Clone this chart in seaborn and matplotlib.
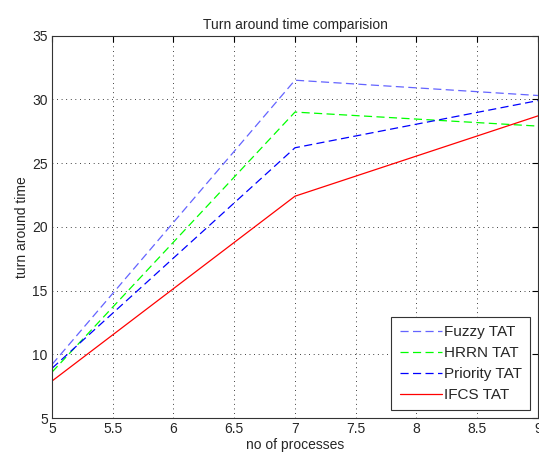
import pandas as pd
import matplotlib.pyplot as plt
import seaborn as sns

# data
processes = [5, 7, 9]
fuzzy_tat = [9.2, 31.5, 30.3]
hrrn_tat = [8.6, 29.0, 27.9]
priority_tat = [8.9, 26.2, 29.9]
ifcs_tat = [7.9, 22.4, 28.7]

series = {
    "Fuzzy TAT": fuzzy_tat,
    "HRRN TAT": hrrn_tat,
    "Priority TAT": priority_tat,
    "IFCS TAT": ifcs_tat,
}
df = pd.concat(
    [pd.DataFrame({"processes": processes, "tat": v, "method": k}) for k, v in series.items()],
    ignore_index=True,
)

sns.set_style("white")
plt.rcParams["font.family"] = ["Liberation Sans", "DejaVu Sans"]

fig = plt.figure(figsize=(5.39, 4.58), dpi=100)
ax = fig.add_axes([0.0965, 0.0873, 0.9015, 0.835])

colors = {"Fuzzy TAT": "#6464ff", "HRRN TAT": "#00ff00", "Priority TAT": "#0000ff", "IFCS TAT": "#ff0000"}
dash = (0, (6.5, 3.5))
styles = {"Fuzzy TAT": dash, "HRRN TAT": dash, "Priority TAT": dash, "IFCS TAT": "-"}

for name in series:
    sub = df[df["method"] == name]
    sns.lineplot(data=sub, x="processes", y="tat", ax=ax, color=colors[name],
                 linestyle=styles[name], linewidth=0.9, label=name)

ax.set_xlim(5, 9)
ax.set_ylim(5, 35)
ax.set_xticks([5, 5.5, 6, 6.5, 7, 7.5, 8, 8.5, 9])
ax.set_xticklabels(["5", "5.5", "6", "6.5", "7", "7.5", "8", "8.5", "9"])
ax.set_yticks([5, 10, 15, 20, 25, 30, 35])
ax.grid(True, color="black", linestyle=(0, (1, 4.5)), linewidth=0.6)
ax.tick_params(direction="in", length=4, labelsize=10, top=True, right=True,
               color="black", pad=3)
for s in ax.spines.values():
    s.set_color("#333333")
    s.set_linewidth(0.8)

ax.set_title("Turn around time comparision", fontsize=10, pad=5)
ax.set_xlabel("no of processes", fontsize=10, labelpad=1)
ax.set_ylabel("turn around time", fontsize=10, labelpad=2)

leg = ax.legend(loc="lower right", fontsize=11, fancybox=False, framealpha=1,
                edgecolor="#333333", borderpad=0.55, handlelength=2.75,
                handletextpad=0.15, labelspacing=0.45, borderaxespad=0.5)
leg.get_frame().set_linewidth(0.8)

plt.savefig("out.png", dpi=100)
